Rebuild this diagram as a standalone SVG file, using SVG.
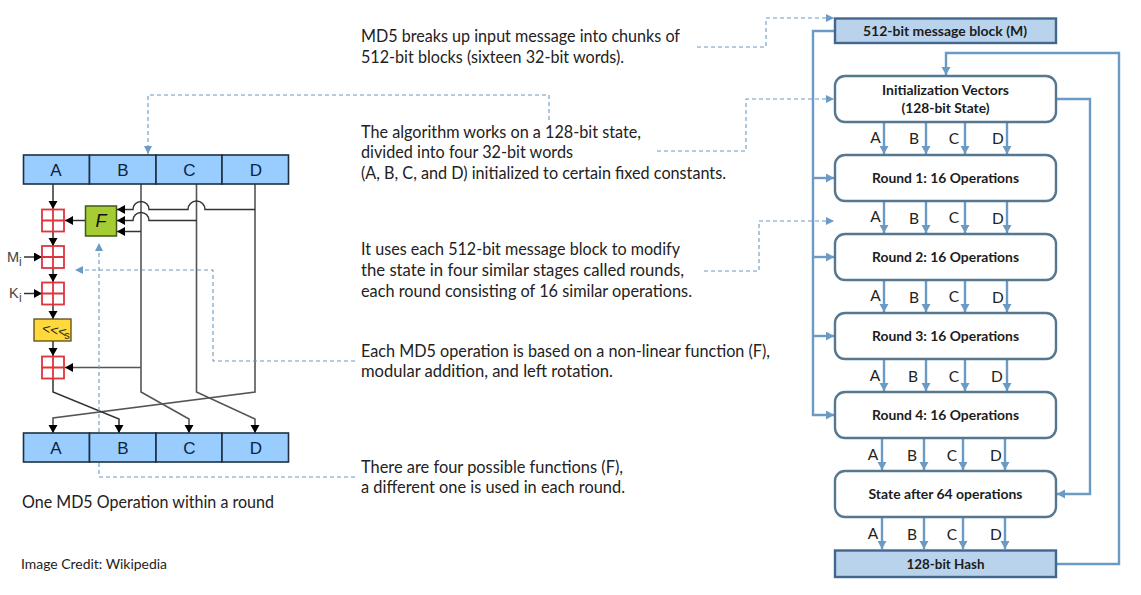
<svg xmlns="http://www.w3.org/2000/svg" width="1141" height="595" viewBox="0 0 1141 595">
<style>
text{font-family:"Lato","Open Sans","Liberation Sans",sans-serif;fill:#222}
.note{font-size:17px}
.blk{font-size:13.5px;font-weight:700;text-anchor:middle;fill:#1c1c1c}
.lab{font-size:15.500px;text-anchor:middle}
.reg{font-family:"Liberation Sans",Arial,sans-serif;font-size:17px;text-anchor:middle;fill:#0c2340}
.cell{fill:#99ccff;stroke:#1f3040;stroke-width:1.6}
.rbox{fill:#fff;stroke:#55778f;stroke-width:2.4}
.sbox{fill:#b9d3ec;stroke:#41678f;stroke-width:2.4}
.add{fill:#fff;stroke:#e0343c;stroke-width:1.8}
.blue{fill:none;stroke:#6b9ac4;stroke-width:2.4}
.dash{fill:none;stroke:#6b9ac4;stroke-width:1.1;stroke-dasharray:4 3}
.dark{fill:none;stroke:#333;stroke-width:1.5}
.gray{fill:none;stroke:#555;stroke-width:1.6}
.sm{font-family:"Liberation Sans",sans-serif;fill:#444}
</style>
<defs>
<marker id="ab" markerUnits="userSpaceOnUse" markerWidth="10" markerHeight="10" refX="8" refY="4.5" orient="auto"><path d="M0 0L8 4.500L0 9z" fill="#6b9ac4"/></marker>
<marker id="ad" markerUnits="userSpaceOnUse" markerWidth="10" markerHeight="10" refX="8" refY="4" orient="auto"><path d="M0 0L8 4L0 8z" fill="#6b9ac4"/></marker>
<marker id="ak" markerUnits="userSpaceOnUse" markerWidth="10" markerHeight="10" refX="8" refY="4.5" orient="auto"><path d="M0 0L8 4.500L0 9z" fill="#000"/></marker>
</defs>

<g id="connectors">
<g class="left">
<path class="dark" d="M53 184V209" marker-end="url(#ak)"/>
<path class="dark" d="M53 231V246" marker-end="url(#ak)"/>
<path class="dark" d="M53 268V282" marker-end="url(#ak)"/>
<path class="dark" d="M53 305V319" marker-end="url(#ak)"/>
<path class="dark" d="M53 341V356" marker-end="url(#ak)"/>
<path class="dark" d="M24 257H42" marker-end="url(#ak)"/>
<path class="dark" d="M24 293.500H42" marker-end="url(#ak)"/>
<path class="dark" d="M85 220.500H65" marker-end="url(#ak)"/>
<path class="gray" d="M141 184V392L189 419V433" marker-end="url(#ak)"/>
<path class="gray" d="M196.500 184V392L255 419V433" marker-end="url(#ak)"/>
<path class="gray" d="M255 184V392L53 418V433" marker-end="url(#ak)"/>
<path class="dark" d="M53 378V392L119 419V433" marker-end="url(#ak)"/>
<path class="gray" d="M141 367.500H65" marker-end="url(#ak)"/>
<path class="dark" d="M255 209.500H205A8 8 0 0 0 188 209.500H149A8 8 0 0 0 133 209.500H117" marker-end="url(#ak)"/>
<path class="dark" d="M196.500 220.500H149A8 8 0 0 0 133 220.500H117" marker-end="url(#ak)"/>
<path class="dark" d="M141 231.500H117" marker-end="url(#ak)"/>
</g>
<g class="dashed">
<path class="dash" d="M697 47H766V18H834" marker-end="url(#ad)"/>
<path class="dash" d="M657 151H746V99H834" marker-end="url(#ad)"/>
<path class="dash" d="M704 271H759V221H834" marker-end="url(#ad)"/>
<path class="dash" d="M549 120V95H148V154" marker-end="url(#ad)"/>
<path class="dash" d="M355 361H213V270H75" marker-end="url(#ad)"/>
<path class="dash" d="M355 477H99V243" marker-end="url(#ad)"/>
</g>
<g class="right">
<path class="blue" d="M835 31H813V415H834" marker-end="url(#ab)"/>
<path class="blue" d="M813 178H834" marker-end="url(#ab)"/>
<path class="blue" d="M813 257H834" marker-end="url(#ab)"/>
<path class="blue" d="M813 336H834" marker-end="url(#ab)"/>
<path class="blue" d="M1056 99H1090V494H1057" marker-end="url(#ab)"/>
<path class="blue" d="M1056 564H1119V53H946V75" marker-end="url(#ab)"/>
<path class="blue" d="M884 122V154" marker-end="url(#ab)"/><path class="blue" d="M926 122V154" marker-end="url(#ab)"/><path class="blue" d="M965 122V154" marker-end="url(#ab)"/><path class="blue" d="M1007 122V154" marker-end="url(#ab)"/>
<path class="blue" d="M884 201V233" marker-end="url(#ab)"/><path class="blue" d="M926 201V233" marker-end="url(#ab)"/><path class="blue" d="M965 201V233" marker-end="url(#ab)"/><path class="blue" d="M1007 201V233" marker-end="url(#ab)"/>
<path class="blue" d="M884 280V312" marker-end="url(#ab)"/><path class="blue" d="M926 280V312" marker-end="url(#ab)"/><path class="blue" d="M965 280V312" marker-end="url(#ab)"/><path class="blue" d="M1007 280V312" marker-end="url(#ab)"/>
<path class="blue" d="M884 359V391" marker-end="url(#ab)"/><path class="blue" d="M926 359V391" marker-end="url(#ab)"/><path class="blue" d="M965 359V391" marker-end="url(#ab)"/><path class="blue" d="M1007 359V391" marker-end="url(#ab)"/>
<path class="blue" d="M882 438V470" marker-end="url(#ab)"/><path class="blue" d="M924 438V470" marker-end="url(#ab)"/><path class="blue" d="M963 438V470" marker-end="url(#ab)"/><path class="blue" d="M1005 438V470" marker-end="url(#ab)"/>
<path class="blue" d="M882 517V549" marker-end="url(#ab)"/><path class="blue" d="M924 517V549" marker-end="url(#ab)"/><path class="blue" d="M963 517V549" marker-end="url(#ab)"/><path class="blue" d="M1005 517V549" marker-end="url(#ab)"/>
</g>
</g>

<g id="state-top">
<rect class="cell" x="23.500" y="155" width="66" height="29"/><rect class="cell" x="89.500" y="155" width="66.500" height="29"/><rect class="cell" x="156" y="155" width="66" height="29"/><rect class="cell" x="222" y="155" width="66.500" height="29"/>
<text class="reg" x="56" y="175.500">A</text><text class="reg" x="123" y="175.500">B</text><text class="reg" x="189.500" y="175.500">C</text><text class="reg" x="256" y="175.500">D</text>
</g>
<g id="state-bottom">
<rect class="cell" x="23.500" y="433" width="66" height="29"/><rect class="cell" x="89.500" y="433" width="66.500" height="29"/><rect class="cell" x="156" y="433" width="66" height="29"/><rect class="cell" x="222" y="433" width="66.500" height="29"/>
<text class="reg" x="56" y="453.500">A</text><text class="reg" x="123" y="453.500">B</text><text class="reg" x="189.500" y="453.500">C</text><text class="reg" x="256" y="453.500">D</text>
</g>
<g id="add1"><rect class="add" x="42" y="209.500" width="22" height="22"/><path class="add" d="M53 209.500V231.500M42 220.500H64"/></g>
<g id="add2"><rect class="add" x="42" y="246" width="22" height="22"/><path class="add" d="M53 246V268M42 257H64"/></g>
<g id="add3"><rect class="add" x="42" y="282.500" width="22" height="22"/><path class="add" d="M53 282.500V304.500M42 293.500H64"/></g>
<g id="add4"><rect class="add" x="42" y="356.500" width="22" height="22"/><path class="add" d="M53 356.500V378.500M42 367.500H64"/></g>
<g id="f-box"><rect x="85.500" y="206" width="31" height="30" fill="#a5cc33" stroke="#3f5a1a" stroke-width="1.500"/><text x="101" y="227" text-anchor="middle" style="font-family:'Liberation Sans',sans-serif;font-style:italic;font-size:18px;fill:#111">F</text></g>
<g id="rot-box"><rect x="34" y="319" width="37" height="22" fill="#ffd83b" stroke="#5a4a10" stroke-width="1.300"/><text transform="rotate(10 54 332)" x="54" y="335" text-anchor="middle" style="font-family:'Liberation Sans',sans-serif;font-size:14px;fill:#222">&lt;&lt;&lt;</text><text x="67" y="339" text-anchor="middle" style="font-family:'Liberation Sans',sans-serif;font-size:11px;fill:#222">s</text></g>
<g id="mi"><text class="sm" x="7" y="262" style="font-size:14.500px">M</text><text class="sm" x="19" y="266" style="font-size:12px">i</text></g>
<g id="ki"><text class="sm" x="9" y="298" style="font-size:14.500px">K</text><text class="sm" x="19" y="302" style="font-size:12px">i</text></g>

<g id="captions">
<text x="22" y="508" style="font-size:16.500px" textLength="252" lengthAdjust="spacingAndGlyphs">One MD5 Operation within a round</text>
<text x="21" y="569" style="font-size:14px" textLength="146" lengthAdjust="spacingAndGlyphs">Image Credit: Wikipedia</text>
</g>
<g id="note-1"><text class="note" x="361" y="42" textLength="319" lengthAdjust="spacingAndGlyphs">MD5 breaks up input message into chunks of</text><text class="note" x="361" y="63" textLength="263" lengthAdjust="spacingAndGlyphs">512-bit blocks (sixteen 32-bit words).</text></g>
<g id="note-2"><text class="note" x="361" y="138" textLength="280" lengthAdjust="spacingAndGlyphs">The algorithm works on a 128-bit state,</text><text class="note" x="361" y="158" textLength="212" lengthAdjust="spacingAndGlyphs">divided into four 32-bit words</text><text class="note" x="361" y="179" textLength="365" lengthAdjust="spacingAndGlyphs">(A, B, C, and D) initialized to certain fixed constants.</text></g>
<g id="note-3"><text class="note" x="361" y="255" textLength="319" lengthAdjust="spacingAndGlyphs">It uses each 512-bit message block to modify</text><text class="note" x="361" y="276" textLength="323" lengthAdjust="spacingAndGlyphs">the state in four similar stages called rounds,</text><text class="note" x="361" y="297" textLength="331" lengthAdjust="spacingAndGlyphs">each round consisting of 16 similar operations.</text></g>
<g id="note-4"><text class="note" x="361" y="357" textLength="409" lengthAdjust="spacingAndGlyphs">Each MD5 operation is based on a non-linear function (F),</text><text class="note" x="361" y="377" textLength="252" lengthAdjust="spacingAndGlyphs">modular addition, and left rotation.</text></g>
<g id="note-5"><text class="note" x="361" y="473" textLength="262" lengthAdjust="spacingAndGlyphs">There are four possible functions (F),</text><text class="note" x="361" y="493" textLength="264" lengthAdjust="spacingAndGlyphs">a different one is used in each round.</text></g>

<g id="msg-block"><rect class="sbox" x="835" y="18.500" width="221" height="24.500"/><text class="blk" x="945" y="36" textLength="164" lengthAdjust="spacingAndGlyphs">512-bit message block (M)</text></g>
<g id="iv"><rect class="rbox" x="835" y="76" width="221" height="46" rx="10"/><text class="blk" x="945.500" y="95" textLength="127" lengthAdjust="spacingAndGlyphs">Initialization Vectors</text><text class="blk" x="945.500" y="113" textLength="88" lengthAdjust="spacingAndGlyphs">(128-bit State)</text></g>
<g id="round1"><rect class="rbox" x="835" y="155" width="221" height="46" rx="10"/><text class="blk" x="945.500" y="183" textLength="147" lengthAdjust="spacingAndGlyphs">Round 1: 16 Operations</text></g>
<g id="round2"><rect class="rbox" x="835" y="234" width="221" height="46" rx="10"/><text class="blk" x="945.500" y="262" textLength="147" lengthAdjust="spacingAndGlyphs">Round 2: 16 Operations</text></g>
<g id="round3"><rect class="rbox" x="835" y="313" width="221" height="46" rx="10"/><text class="blk" x="945.500" y="341" textLength="147" lengthAdjust="spacingAndGlyphs">Round 3: 16 Operations</text></g>
<g id="round4"><rect class="rbox" x="835" y="392" width="221" height="46" rx="10"/><text class="blk" x="945.500" y="420" textLength="147" lengthAdjust="spacingAndGlyphs">Round 4: 16 Operations</text></g>
<g id="state64"><rect class="rbox" x="835" y="471" width="221" height="46" rx="10"/><text class="blk" x="945.500" y="499" textLength="154" lengthAdjust="spacingAndGlyphs">State after 64 operations</text></g>
<g id="hash"><rect class="sbox" x="835" y="550.500" width="221" height="26.500"/><text class="blk" x="945.500" y="569" textLength="78" lengthAdjust="spacingAndGlyphs">128-bit Hash</text></g>

<g id="labels">
<text class="lab" x="875.500" y="143">A</text><text class="lab" x="914" y="144">B</text><text class="lab" x="954" y="144">C</text><text class="lab" x="998" y="144">D</text>
<text class="lab" x="875.500" y="222">A</text><text class="lab" x="914" y="224">B</text><text class="lab" x="954" y="223">C</text><text class="lab" x="998" y="224">D</text>
<text class="lab" x="875.500" y="301">A</text><text class="lab" x="914" y="303">B</text><text class="lab" x="954" y="302">C</text><text class="lab" x="998" y="303">D</text>
<text class="lab" x="875" y="381">A</text><text class="lab" x="913" y="382">B</text><text class="lab" x="954" y="382">C</text><text class="lab" x="997" y="382">D</text>
<text class="lab" x="873" y="460">A</text><text class="lab" x="912" y="461">B</text><text class="lab" x="952" y="461">C</text><text class="lab" x="996" y="461">D</text>
<text class="lab" x="873" y="539">A</text><text class="lab" x="912" y="540">B</text><text class="lab" x="952" y="540">C</text><text class="lab" x="996" y="540">D</text>
</g>
</svg>
